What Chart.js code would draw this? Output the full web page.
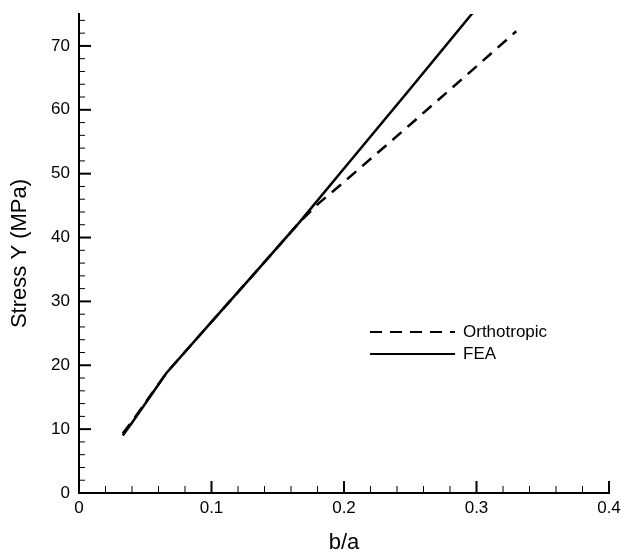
<!DOCTYPE html>
<html>
<head>
<meta charset="utf-8">
<script src="https://cdn.jsdelivr.net/npm/chart.js@4"></script>
<style>
  html, body { margin: 0; padding: 0; background: #fff; }
  #wrap { width: 621px; height: 554px; }
</style>
</head>
<body>
<div id="wrap"><canvas id="chart" width="621" height="554"></canvas></div>
<script>
// data
const feaX = [0.033, 0.04, 0.066, 0.1, 0.133, 0.166, 0.2, 0.25, 0.3];
const feaY = [9.0, 11.0, 18.8, 26.8, 34.5, 42.3, 50.8, 63.3, 75.9];
const orthoX = [0.033, 0.04, 0.066, 0.1, 0.133, 0.166, 0.18, 0.2, 0.25, 0.3, 0.33];
const orthoY = [9.3, 11.2, 18.8, 26.8, 34.5, 42.3, 45.2, 48.7, 57.7, 66.8, 72.3];
const xTicks = [0, 0.1, 0.2, 0.3, 0.4];
const yTicks = [0, 10, 20, 30, 40, 50, 60, 70];

const FONT = 'Arial, "Liberation Sans", sans-serif';

function pts(xs, ys) { return xs.map((x, i) => ({ x: x, y: ys[i] })); }

// inward tick marks (major + minor)
const tickMarks = {
    id: 'tickMarks',
    afterDraw(chart) {
        const c = chart.ctx, xs = chart.scales.x, ys = chart.scales.y;
        const a = chart.chartArea;
        c.save();
        c.strokeStyle = '#000';
        for (let i = 0; i <= 20; i++) {
            const v = i * 0.02;
            const px = xs.getPixelForValue(v);
            const major = i % 5 === 0;
            c.lineWidth = major ? 2 : 1;
            c.beginPath();
            c.moveTo(px, a.bottom);
            c.lineTo(px, a.bottom - (major ? 12 : 7));
            c.stroke();
        }
        for (let v = 0; v <= 74; v += 2) {
            const py = ys.getPixelForValue(v);
            const major = v % 10 === 0;
            c.lineWidth = major ? 2 : 1;
            c.beginPath();
            c.moveTo(a.left, py);
            c.lineTo(a.left + (major ? 12 : 6), py);
            c.stroke();
        }
        c.restore();
    }
};

// legend like the original: line sample then label
const sideLegend = {
    id: 'sideLegend',
    afterDraw(chart) {
        const c = chart.ctx;
        const x0 = 370, x1 = 455, top = 332, step = 22;
        c.save();
        c.font = '17px ' + FONT;
        c.fillStyle = '#000';
        c.textBaseline = 'middle';
        chart.data.datasets.forEach((ds, i) => {
            const y = top + i * step;
            c.strokeStyle = '#000';
            c.lineWidth = 2;
            c.setLineDash(ds.borderDash || []);
            c.beginPath();
            c.moveTo(x0, y);
            c.lineTo(x1, y);
            c.stroke();
            c.setLineDash([]);
            c.fillText(ds.label, x1 + 8, y);
        });
        c.restore();
    }
};

new Chart(document.getElementById('chart').getContext('2d'), {
    type: 'line',
    data: {
        datasets: [
            { label: 'Orthotropic', data: pts(orthoX, orthoY), borderColor: '#000', borderWidth: 2.5,
              borderDash: [12, 8], pointRadius: 0, fill: false, tension: 0 },
            { label: 'FEA', data: pts(feaX, feaY), borderColor: '#000', borderWidth: 2.5,
              pointRadius: 0, fill: false, tension: 0 }
        ]
    },
    options: {
        responsive: false,
        animation: false,
        layout: { padding: { top: 14, right: 12, left: 0, bottom: 0 } },
        plugins: { legend: { display: false }, tooltip: { enabled: false } },
        scales: {
            x: {
                type: 'linear', min: 0, max: 0.4,
                afterBuildTicks(s) { s.ticks = xTicks.map(v => ({ value: v })); },
                afterFit(s) { s.height = 61; s.paddingLeft = 0; s.paddingRight = 0; },
                grid: { display: false, drawTicks: false },
                border: { display: true, color: '#000', width: 2 },
                ticks: { color: '#000', padding: 5, maxRotation: 0,
                         font: { family: FONT, size: 17 },
                         callback: v => String(v) },
                title: { display: true, text: 'b/a', color: '#000', padding: { top: 12, bottom: -2 },
                         font: { family: FONT, size: 22 } }
            },
            y: {
                type: 'linear', min: 0, max: 75,
                afterBuildTicks(s) { s.ticks = yTicks.map(v => ({ value: v })); },
                afterFit(s) { s.width = 79; s.paddingTop = 0; s.paddingBottom = 0; },
                grid: { display: false, drawTicks: false },
                border: { display: true, color: '#000', width: 2 },
                ticks: { color: '#000', padding: 9, font: { family: FONT, size: 17 } },
                title: { display: true, text: 'Stress Y (MPa)', color: '#000', padding: { top: 7, bottom: 0 },
                         font: { family: FONT, size: 22 } }
            }
        }
    },
    plugins: [tickMarks, sideLegend]
});
</script>
</body>
</html>
